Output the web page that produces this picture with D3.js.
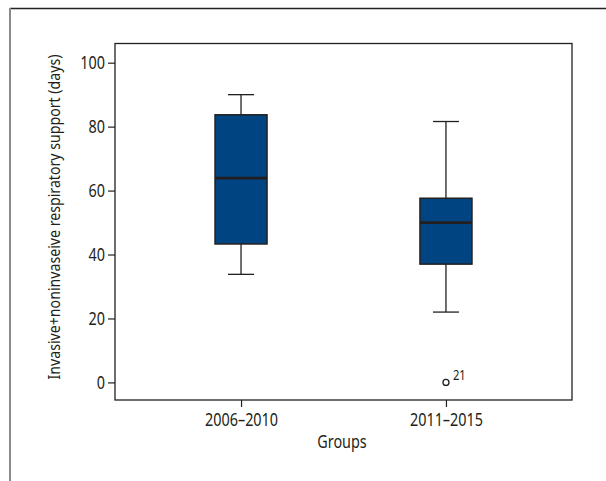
<!DOCTYPE html>
<html><head><meta charset="utf-8">
<script src="https://cdn.jsdelivr.net/npm/d3@7"></script>
<style>
body{margin:0;background:#fff;}
text{font-family:"Noto Sans","Open Sans",sans-serif;fill:#231f20;}
</style></head><body>
<svg id="c" width="606" height="481"></svg>
<script>
const groups = ["2006–2010", "2011–2015"];
const whiskerLow = [33.8, 22.0];
const q1 = [43.3, 37.0];
const median = [63.9, 50.0];
const q3 = [83.7, 57.6];
const whiskerHigh = [90.0, 81.6];
const outliers = [{group: "2011–2015", value: 0, label: "21"}];
const yTicks = [0, 20, 40, 60, 80, 100];

const svg = d3.select("#c");
const L = 115, R = 572, T = 43.5, B = 400;
const x = d3.scalePoint().domain(groups).range([L, R]).padding(0.615);
const y = d3.scaleLinear().domain([-5.5, 106]).range([B, T]);
const ink = "#231f20";

// condense text horizontally (reference uses a condensed face)
function squish(sel, f) {
  sel.each(function () {
    const w = this.getComputedTextLength();
    d3.select(this).attr("textLength", w * f).attr("lengthAdjust", "spacingAndGlyphs");
  });
}

// outer frame
svg.append("line").attr("x1", 10).attr("x2", 606).attr("y1", 8.5).attr("y2", 8.5).attr("stroke", "#222").attr("stroke-width", 1.5);
svg.append("line").attr("x1", 10).attr("x2", 10).attr("y1", 8).attr("y2", 481).attr("stroke", "#8a8a8a").attr("stroke-width", 2);

// plot box
svg.append("rect").attr("x", L).attr("y", T).attr("width", R - L).attr("height", B - T)
  .attr("fill", "none").attr("stroke", ink).attr("stroke-width", 1.3);

// y axis
const yAxis = d3.axisLeft(y).tickValues(yTicks).tickSize(7).tickPadding(3);
const gy = svg.append("g").attr("transform", `translate(${L},0)`).call(yAxis);
gy.select(".domain").remove();
gy.selectAll(".tick line").attr("stroke", ink).attr("stroke-width", 1.2);
gy.selectAll(".tick text").style("font-size", "18px").attr("fill", ink).call(squish, 0.8);

// x axis
const xAxis = d3.axisBottom(x).tickSize(7).tickPadding(6);
const gx = svg.append("g").attr("transform", `translate(0,${B})`).call(xAxis);
gx.select(".domain").remove();
gx.selectAll(".tick line").attr("stroke", ink).attr("stroke-width", 1.2);
gx.selectAll(".tick text").style("font-size", "18px").attr("fill", ink).call(squish, 0.8);

// axis titles
svg.append("text").attr("x", 342).attr("y", 448).attr("text-anchor", "middle")
  .style("font-size", "18px").text("Groups").call(squish, 0.8);
svg.append("text").attr("transform", "translate(60,217) rotate(-90)").attr("text-anchor", "middle")
  .style("font-size", "16.5px").text("Invasive+noninvaseive respiratory support (days)").call(function (sel) {
    const w = sel.node().getComputedTextLength();
    sel.attr("textLength", Math.min(w, 325)).attr("lengthAdjust", "spacingAndGlyphs");
  });

// boxes
const bw = 52, cw = 26;
const data = groups.map((g, i) => ({g, lo: whiskerLow[i], q1: q1[i], med: median[i], q3: q3[i], hi: whiskerHigh[i]}));
const gb = svg.append("g").selectAll("g").data(data).join("g");
gb.append("line").attr("x1", d => x(d.g)).attr("x2", d => x(d.g)).attr("y1", d => y(d.hi)).attr("y2", d => y(d.q3)).attr("stroke", ink).attr("stroke-width", 1.3);
gb.append("line").attr("x1", d => x(d.g)).attr("x2", d => x(d.g)).attr("y1", d => y(d.q1)).attr("y2", d => y(d.lo)).attr("stroke", ink).attr("stroke-width", 1.3);
gb.append("line").attr("x1", d => x(d.g) - cw / 2).attr("x2", d => x(d.g) + cw / 2).attr("y1", d => y(d.hi)).attr("y2", d => y(d.hi)).attr("stroke", ink).attr("stroke-width", 1.3);
gb.append("line").attr("x1", d => x(d.g) - cw / 2).attr("x2", d => x(d.g) + cw / 2).attr("y1", d => y(d.lo)).attr("y2", d => y(d.lo)).attr("stroke", ink).attr("stroke-width", 1.3);
gb.append("rect").attr("x", d => x(d.g) - bw / 2).attr("width", bw).attr("y", d => y(d.q3)).attr("height", d => y(d.q1) - y(d.q3))
  .attr("fill", "#004581").attr("stroke", ink).attr("stroke-width", 1.5);
gb.append("line").attr("x1", d => x(d.g) - bw / 2).attr("x2", d => x(d.g) + bw / 2).attr("y1", d => y(d.med)).attr("y2", d => y(d.med)).attr("stroke", ink).attr("stroke-width", 2.8);

// outliers
svg.append("g").selectAll("circle").data(outliers).join("circle")
  .attr("cx", d => x(d.group)).attr("cy", d => y(d.value)).attr("r", 3)
  .attr("fill", "#fff").attr("stroke", ink).attr("stroke-width", 1.3);
svg.append("g").selectAll("text").data(outliers).join("text")
  .attr("x", d => x(d.group) + 7).attr("y", d => y(d.value) - 2)
  .style("font-size", "14px").text(d => d.label).call(squish, 0.8);
</script></body></html>
